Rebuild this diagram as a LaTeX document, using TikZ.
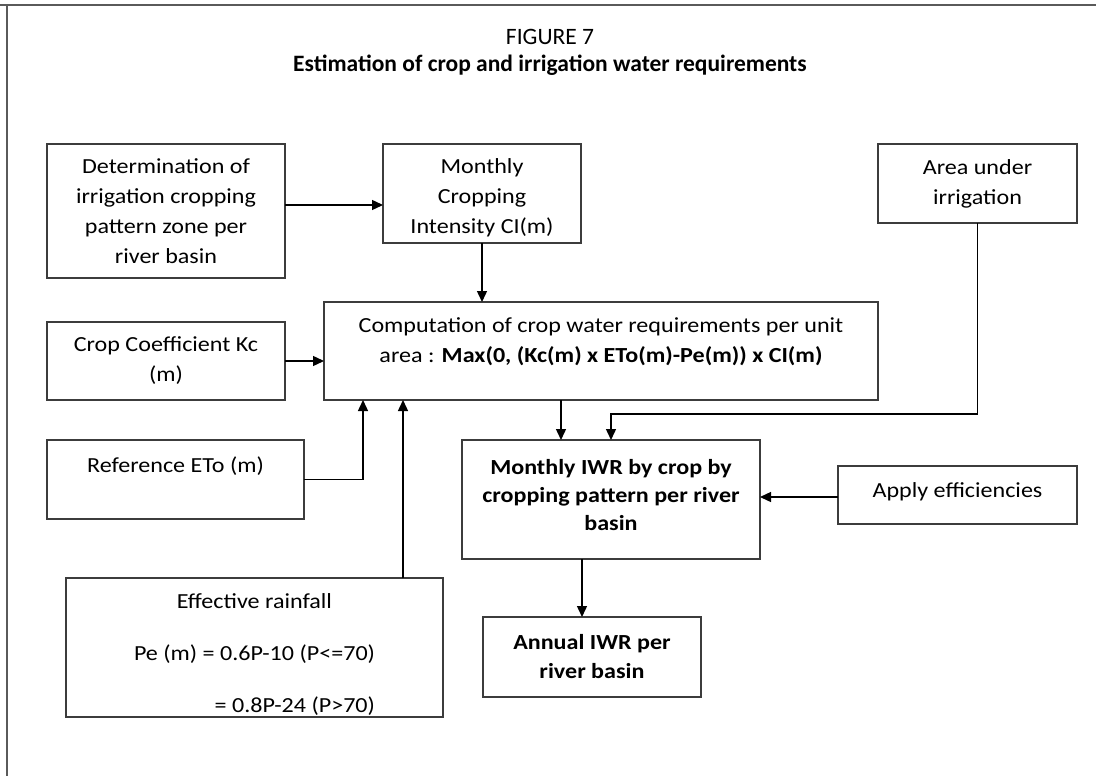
\documentclass[tikz,border=0pt]{standalone}
\usepackage{fontspec}
\setmainfont{Carlito}
\newfontfamily\boxfont{Carlito}[FakeStretch=1.12]
\usepackage{calc}
\usetikzlibrary{arrows.meta}
\definecolor{boxc}{HTML}{3C3C3C}
\definecolor{framec}{HTML}{5A5A5A}
\tikzset{
  box/.style={draw=boxc, line width=1.4bp, anchor=north west, inner sep=0pt, outer sep=0pt},
  txt/.style={align=center, inner sep=0pt, font=\boxfont\fontsize{21.5bp}{30bp}\selectfont},
  arr/.style={draw=black, line width=1.4bp, -{Triangle[length=11bp,width=10bp]}},
}
\begin{document}
\begin{tikzpicture}[x=1bp,y=-1bp]
\useasboundingbox (0,0) rectangle (1096,776);
\draw[framec, line width=2bp] (0,5) -- (1096,5);
\draw[framec, line width=2bp] (7,5) -- (7,776);

\node[anchor=base, inner sep=0pt, font=\fontsize{23.5bp}{28bp}\selectfont] (fig) at (550,45) {FIGURE 7};
\node[anchor=base, inner sep=0pt, font=\bfseries\fontsize{23.5bp}{28bp}\selectfont] (title) at (550,72) {Estimation of crop and irrigation water requirements};

% boxes
\node[box, minimum width=238bp, minimum height=134bp] (A) at (47,144) {};
\node[box, minimum width=198bp, minimum height=99bp]  (B) at (383,144) {};
\node[box, minimum width=554bp, minimum height=98bp]  (C) at (324,302) {};
\node[box, minimum width=199bp, minimum height=79bp]  (D) at (878,144) {};
\node[box, minimum width=238bp, minimum height=78bp]  (E) at (47,322) {};
\node[box, minimum width=257bp, minimum height=79bp]  (F) at (47,440) {};
\node[box, minimum width=377bp, minimum height=139bp] (G) at (66,578) {};
\node[box, minimum width=298bp, minimum height=119bp] (H) at (462,440) {};
\node[box, minimum width=239bp, minimum height=58bp]  (I) at (838,466) {};
\node[box, minimum width=218bp, minimum height=80bp]  (J) at (483,617) {};

% texts
\node[txt] (At) at (A.center) {Determination of\\irrigation cropping\\pattern zone per\\river basin};
\node[txt] (Bt) at ([yshift=-4bp]B.center) {Monthly\\Cropping\\Intensity CI(m)};
\node[txt] (Ct) at ([yshift=9bp]C.center) {Computation of crop water requirements per unit\\area : \textbf{Max(0, (Kc(m) x ETo(m)-Pe(m)) x CI(m)}};
\node[txt] (Dt) at (D.center) {Area under\\irrigation};
\node[txt] (Et) at (E.center) {Crop Coefficient Kc\\(m)};
\node[txt] (Ft) at ([yshift=13.5bp]F.center) {Reference ETo (m)};
\node[txt, font=\boxfont\fontsize{21.5bp}{26bp}\selectfont] (Gt) at ([yshift=-7.5bp]G.center)
  {Effective rainfall\\[26bp]Pe (m) = 0.6P-10 (P<=70)\\[26bp]\makebox[\widthof{Pe (m) = 0.6P-10 (P<=70)}][r]{= 0.8P-24 (P>70)}};
\node[txt, font=\boxfont\bfseries\fontsize{21.5bp}{28bp}\selectfont] (Ht) at ([yshift=4bp]H.center) {Monthly IWR by crop by\\cropping pattern per river\\basin};
\node[txt] (It) at ([yshift=3bp]I.center) {Apply efficiencies};
\node[txt, font=\boxfont\bfseries\fontsize{21.5bp}{29bp}\selectfont] (Jt) at (J.center) {Annual IWR per\\river basin};

% connectors
\draw[arr] (A.east |- 0,205) -- (B.west |- 0,205);
\draw[arr] (B.south) -- (C.north -| B.south);
\draw[arr] (E.east) -- (C.west |- E.east);
\draw[arr] (F.east) -| (C.south -| 363,0);
\draw[arr] (G.north -| 403,0) -- (C.south -| 403,0);
\draw[arr] (C.south -| 561,0) -- (H.north -| 561,0);
\draw[arr] (D.south) |- (611,414) -- (H.north -| 611,0);
\draw[arr] (I.west |- 0,497) -- (H.east |- 0,497);
\draw[arr] (H.south -| 582,0) -- (J.north -| 582,0);
\end{tikzpicture}
\end{document}
